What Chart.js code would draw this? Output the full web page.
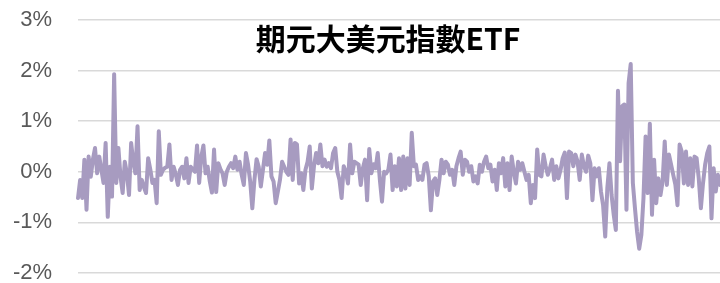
<!DOCTYPE html>
<html>
<head>
<meta charset="utf-8">
<script src="https://cdn.jsdelivr.net/npm/chart.js@4"></script>
<style>
  html, body { margin: 0; padding: 0; background: #fff; }
  #wrap { width: 720px; height: 283px; position: relative; }
</style>
</head>
<body>
<div id="wrap"><canvas id="myChart"></canvas></div>
<script>
// daily return (%), left to right
var titleText = "期元大美元指數ETF"
var yTicks = [-2, -1, 0, 1, 2, 3]

var part1 = [-0.52, -0.16, -0.52, 0.24, -0.75, 0.3, -0.1, 0.24, 0.47, -0.03, 0.3, 0.04, -0.22, 0.57, -0.89, 0.1, -0.49, 1.93,
  -0.22, 0.47, -0.1, -0.42, 0.2, -0.03, -0.46, 0.57, 0.2, -0.03, 0.9, -0.36, -0.16, -0.3, -0.42, 0.27, 0.05, -0.22, -0.16, -0.62,
  0.8, -0.06, 0.04, 0.08, 0.1, 0.54, -0.16, 0.1, -0.05, -0.26, 0.04, 0.1, -0.13, 0.27, -0.22, 0.1, 0.05, 0, 0.52, -0.22, 0.3,
  0.52, -0.03, 0.1, -0.19, -0.41, 0.44, -0.4, 0.17, 0.05, -0.03, -0.26, 0, 0.1, 0.17, 0.07, 0.3]
var part2 = [0.04, 0.2, -0.06, -0.26, 0.37, 0.14, -0.19, -0.72, -0.16, 0.25, 0.1, -0.29, 0.04, 0.37, 0.14, 0.62, -0.09, -0.19,
  -0.62, -0.39, -0.16, 0.2, 0.1, 0, -0.06, 0.64, -0.16, 0.57, 0.54, -0.23, -0.03, -0.36, 0.04, 0.2, 0.5, -0.33, 0.11, 0.37, 0.17,
  0.54, 0.11, 0.24, 0.1, 0.17, 0.07, 0.37, 0.47, 0, -0.16, -0.52, 0.11, 0, -0.23, 0.54, -0.03, 0.2, 0.17, 0.14, -0.26, 0.07,
  0.24, -0.56, 0.45, -0.03, 0.15, 0.07, 0.37, -0.16, -0.59, 0, -0.03, 0.04, 0.34, -0.36, 0.11]
var part3 = [-0.29, 0.27, -0.36, 0.3, -0.33, 0.27, -0.26, 0.77, 0.11, 0.14, -0.16, -0.09, -0.16, 0.14, 0.17, -0.09, -0.76,
  -0.19, -0.13, -0.46, -0.16, 0.24, -0.03, 0.2, 0.14, -0.06, 0.04, -0.26, 0.11, 0.27, 0.4, -0.06, 0.24, 0.2, 0, 0.11, -0.19,
  -0.09, -0.23, 0.14, 0, 0.2, 0.3, 0.07, 0.14, -0.19, 0.04, -0.36, 0.17, -0.03, 0.27, -0.29, 0.17, -0.36, 0.3, 0, -0.23, 0.2,
  0.04, 0.17, 0, -0.16, -0.06, -0.62, -0.26, -0.52, 0.44, -0.06, -0.09, 0.34, 0.11, -0.06, 0.07, 0.24, -0.16, 0.11]
var part4 = [-0.13, 0.04, 0.27, 0.38, -0.52, 0.4, 0.37, 0.11, 0.34, 0.2, -0.16, 0.34, 0.11, 0, 0.32, 0.17, -0.56, 0.07, -0.09,
  0.07, -0.39, -0.66, -1.28, -0.32, 0.17, -0.46, -0.85, -1.15, 1.6, 0.21, 1.3, 1.33, -0.75, 1.75, 2.13, -0.22, -0.72, -1.19,
  -1.52, -1.25, -0.52, 0.7, -0.42, 0.95, -0.85, 0.24, -0.62, -0.13, -0.46, -0.19, 0.6, -0.26, 0.34, 0.14, -0.06, -0.25, -0.66,
  0.54, 0.4, -0.23, 0.4, -0.26, 0.27, -0.29, 0.3, 0.27, -0.13, -0.72, -0.23, 0.14, 0.37, 0.5, -0.92, 0.07, -0.39, -0.06, -0.26]

var returns = part1.concat(part2, part3, part4)
var labels = returns.map((v, i) => i + 1)

// title sits inside the plot, over the gridlines
const titleInside = {
  id: 'titleInside',
  afterDraw(chart) {
    const c = chart.ctx
    c.save()
    c.font = "bold 30px 'Noto Sans CJK TC', 'Noto Sans'"
    c.fillStyle = '#000'
    c.textAlign = 'center'
    c.textBaseline = 'middle'
    c.fillText(titleText, 388, 39)
    c.restore()
  }
}

const ctx = document.getElementById('myChart')
const chart1 = new Chart(ctx, {
  type: 'line',
  data: {
    labels: labels,
    datasets: [{
      data: returns,
      borderColor: '#A79BC0',
      borderWidth: 4,
      borderJoinStyle: 'round',
      borderCapStyle: 'round',
      pointRadius: 0,
      fill: false,
      tension: 0
    }]
  },
  options: {
    responsive: true,
    maintainAspectRatio: false,
    animation: false,
    layout: { padding: { top: 20, left: 13, right: 0, bottom: 10 } },
    plugins: { legend: { display: false }, tooltip: { enabled: false }, title: { display: false } },
    scales: {
      x: { display: false },
      y: {
        min: -2,
        max: 3,
        afterBuildTicks: (axis) => { axis.ticks = yTicks.map(v => ({ value: v })) },
        afterFit: (axis) => { axis.width = 65; axis.paddingTop = 0; axis.paddingBottom = 0 },
        border: { display: false },
        grid: { color: '#D9D9D9', lineWidth: 1.5, drawTicks: false },
        ticks: {
          padding: 26,
          color: '#595959',
          font: { family: "'Liberation Sans', Arial", size: 22 },
          callback: (v) => v + '%'
        }
      }
    }
  },
  plugins: [titleInside]
});
</script>
</body>
</html>
